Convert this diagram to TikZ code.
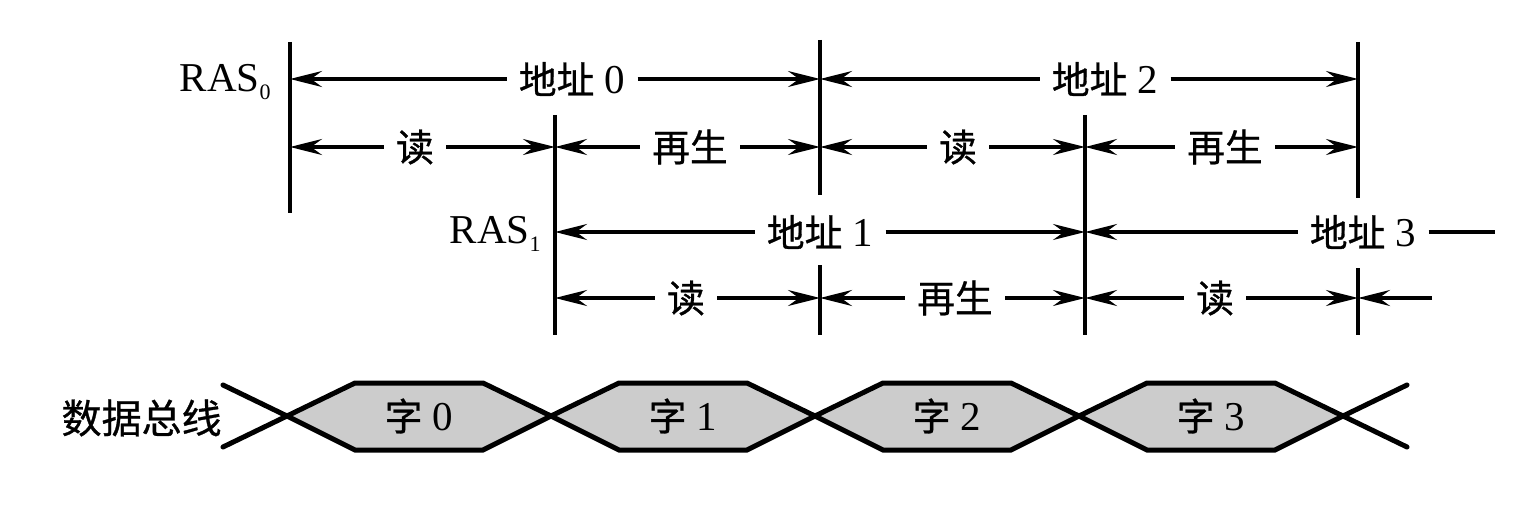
\documentclass[tikz,border=0pt]{standalone}
\usepackage{fontspec}
\setmainfont{Liberation Serif}
\newfontfamily\cjk{Noto Sans CJK SC}[Scale=0.92,FakeBold=0.8]
\newfontfamily\cjkb{Noto Sans CJK SC}[FakeBold=0.8]
\usetikzlibrary{arrows.meta}
\definecolor{busgray}{RGB}{204,204,204}
\begin{document}
\begin{tikzpicture}[x=0.5pt,y=-0.5pt,
  lbl/.style={inner xsep=6pt, inner ysep=0pt, font=\fontsize{20.5}{24}\selectfont},
  dim/.style={line width=1.6pt,-{Stealth[length=16pt,width=8pt,inset=5.5pt]}},
  plain/.style={line width=1.6pt},
  vline/.style={line width=1.6pt},
  bus/.style={line width=2.5pt},
  raslbl/.style={anchor=base east, inner sep=0pt, font=\fontsize{20.5}{24}\selectfont}]
\useasboundingbox (0,0) rectangle (1538,508);

% vertical time marks
\coordinate (v0t) at (290,42);  \coordinate (v0b) at (290,213);
\coordinate (v1t) at (555,115); \coordinate (v1b) at (555,335);
\coordinate (v2t) at (820,40);  \coordinate (v2m) at (820,195);
\coordinate (v2n) at (820,265); \coordinate (v2b) at (820,335);
\coordinate (v3t) at (1085,115); \coordinate (v3b) at (1085,335);
\coordinate (v4t) at (1358,42); \coordinate (v4m) at (1358,198);
\coordinate (v4n) at (1358,268); \coordinate (v4b) at (1358,335);
\draw[vline] (v0t) -- (v0b);
\draw[vline] (v1t) -- (v1b);
\draw[vline] (v2t) -- (v2m);
\draw[vline] (v2n) -- (v2b);
\draw[vline] (v3t) -- (v3b);
\draw[vline] (v4t) -- (v4m);
\draw[vline] (v4n) -- (v4b);

% labels RAS
\node[raslbl] (ras0) at (271,92) {RAS\raisebox{-4pt}{\fontsize{11}{11}\selectfont 0}};
\node[raslbl] (ras1) at (541,243) {RAS\raisebox{-4pt}{\fontsize{11}{11}\selectfont 1}};

% row 1
\node[lbl] (a0) at (572,79) {{\cjk 地址} 0};
\node[lbl] (a2) at (1105,79) {{\cjk 地址} 2};
\draw[dim] (a0.west) -- (a0.west -| v0t);
\draw[dim] (a0.east) -- (a0.east -| v2t);
\draw[dim] (a2.west) -- (a2.west -| v2t);
\draw[dim] (a2.east) -- (a2.east -| v4t);

% row 2
\node[lbl] (r0) at (415,147) {\cjk 读};
\node[lbl] (g0) at (690,147) {\cjk 再生};
\node[lbl] (r2) at (958,147) {\cjk 读};
\node[lbl] (g2) at (1225,147) {\cjk 再生};
\draw[dim] (r0.west) -- (r0.west -| v0t);
\draw[dim] (r0.east) -- (r0.east -| v1t);
\draw[dim] (g0.west) -- (g0.west -| v1t);
\draw[dim] (g0.east) -- (g0.east -| v2t);
\draw[dim] (r2.west) -- (r2.west -| v2t);
\draw[dim] (r2.east) -- (r2.east -| v3t);
\draw[dim] (g2.west) -- (g2.west -| v3t);
\draw[dim] (g2.east) -- (g2.east -| v4t);

% row 3
\node[lbl] (a1) at (820,232) {{\cjk 地址} 1};
\node[lbl] (a3) at (1363,232) {{\cjk 地址} 3};
\coordinate (e3) at (1495,232);
\draw[dim] (a1.west) -- (a1.west -| v1t);
\draw[dim] (a1.east) -- (a1.east -| v3t);
\draw[dim] (a3.west) -- (a3.west -| v3t);
\draw[plain] (a3.east) -- (e3);

% row 4
\node[lbl] (r1) at (686,298) {\cjk 读};
\node[lbl] (g1) at (955,298) {\cjk 再生};
\node[lbl] (r3) at (1215,298) {\cjk 读};
\coordinate (e4) at (1432,298);
\draw[dim] (r1.west) -- (r1.west -| v1t);
\draw[dim] (r1.east) -- (r1.east -| v2t);
\draw[dim] (g1.west) -- (g1.west -| v2t);
\draw[dim] (g1.east) -- (g1.east -| v3t);
\draw[dim] (r3.west) -- (r3.west -| v3t);
\draw[dim] (r3.east) -- (r3.east -| v4t);
\draw[dim] (e4) -- (e4 -| v4t);

% data bus
\node[anchor=east, inner sep=0pt, font=\fontsize{20}{24}\selectfont] (busl) at (222,418) {\cjkb 数据总线};
\foreach \a/\b/\t in {287/551/0, 551/815/1, 815/1079/2, 1079/1343/3} {
  \draw[bus, fill=busgray] (\a,416) -- (\a+68,383) -- (\b-68,383) -- (\b,416) -- (\b-68,450) -- (\a+68,450) -- cycle;
  \node[lbl] (w\t) at ({(\a+\b)/2},416) {{\cjk 字} \t};
}
\draw[bus, line cap=round] (223,447) -- (287,416) -- (223,385);
\draw[bus, line cap=round] (1407,385) -- (1343,416) -- (1407,447);
\end{tikzpicture}
\end{document}
